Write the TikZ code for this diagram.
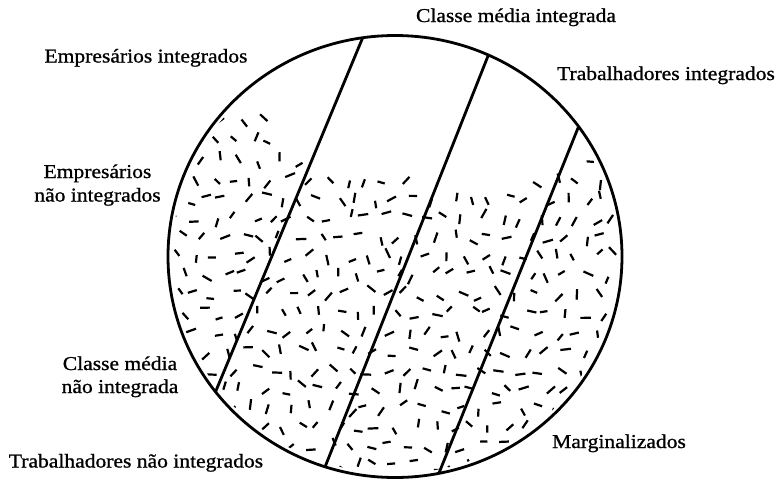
\documentclass[tikz,border=0pt]{standalone}
\usepackage{fontspec}
\setmainfont{Liberation Serif}[FakeStretch=1.1,FakeBold=1.0]
\usetikzlibrary{calc}
\begin{document}
\begin{tikzpicture}[x=1pt,y=-1pt,
  outline/.style={line width=2.8pt},
  dashmark/.style={line width=2.2pt},
  lbl/.style={anchor=base,inner sep=0pt,font=\fontsize{19.6}{23}\selectfont}]
\useasboundingbox (0,0) rectangle (784,480);
\coordinate (c) at (395,256.5);
\coordinate (l1a) at (363,37);
\coordinate (l1b) at (216.7,389);
\coordinate (l2a) at (488,56);
\coordinate (l2b) at (325,467);
\coordinate (l3a) at (578,128);
\coordinate (l3b) at (439,473);
% speckled lower region
\begin{scope}
  \clip (c) ellipse [x radius=223, y radius=217];
  \pgfmathsetseed{11}
  \foreach \i/\b in {0/200,1/188,2/148,3/112,4/110,5/118,6/134,7/150,8/162,9/168,10/172,11/174,12/177,13/180,14/186,15/190,16/191,17/191,18/189,19/185,20/179,21/169,22/156,23/152,24/172,25/208}{
    \foreach \j in {0,...,20}{
      \pgfmathsetmacro{\px}{158+\i*19+mod(\j,2)*9.5+11*(rnd-0.5)}
      \pgfmathsetmacro{\py}{104+\j*19+11*(rnd-0.5)}
      \pgfmathsetmacro{\ang}{rnd*180}
      \pgfmathsetmacro{\len}{3.6+rnd*1.8}
      \pgfmathtruncatemacro{\ok}{(\py>\b+14*(rnd-0.5)) ? 1 : 0}
      \ifnum\ok=1
        \draw[dashmark,shift={(\px,\py)},rotate=\ang] (-\len,0) -- (\len,0);
      \fi
    }
  }
\end{scope}
% strip boundaries
\begin{scope}
  \clip (c) ellipse [x radius=227, y radius=221];
  \draw[outline] ($(l1a)!-0.05!(l1b)$) -- ($(l1a)!1.05!(l1b)$);
  \draw[outline] ($(l2a)!-0.05!(l2b)$) -- ($(l2a)!1.05!(l2b)$);
  \draw[outline] ($(l3a)!-0.05!(l3b)$) -- ($(l3a)!1.05!(l3b)$);
\end{scope}
\draw[outline] (c) ellipse [x radius=227, y radius=221];
% labels
\node[lbl] (cmi) at (516,22) {Classe média integrada};
\node[lbl] (ei) at (146,62.5) {Empresários integrados};
\node[lbl] (ti) at (666,80) {Trabalhadores integrados};
\node[lbl] (eni1) at (97.5,178) {Empresários};
\node[lbl] (eni2) at (97.5,201.5) {não integrados};
\node[lbl] (cmni1) at (120,370) {Classe média};
\node[lbl] (cmni2) at (120,393) {não integrada};
\node[lbl] (tni) at (136,467.5) {Trabalhadores não integrados};
\node[lbl] (marg) at (619,448) {Marginalizados};
\end{tikzpicture}
\end{document}
